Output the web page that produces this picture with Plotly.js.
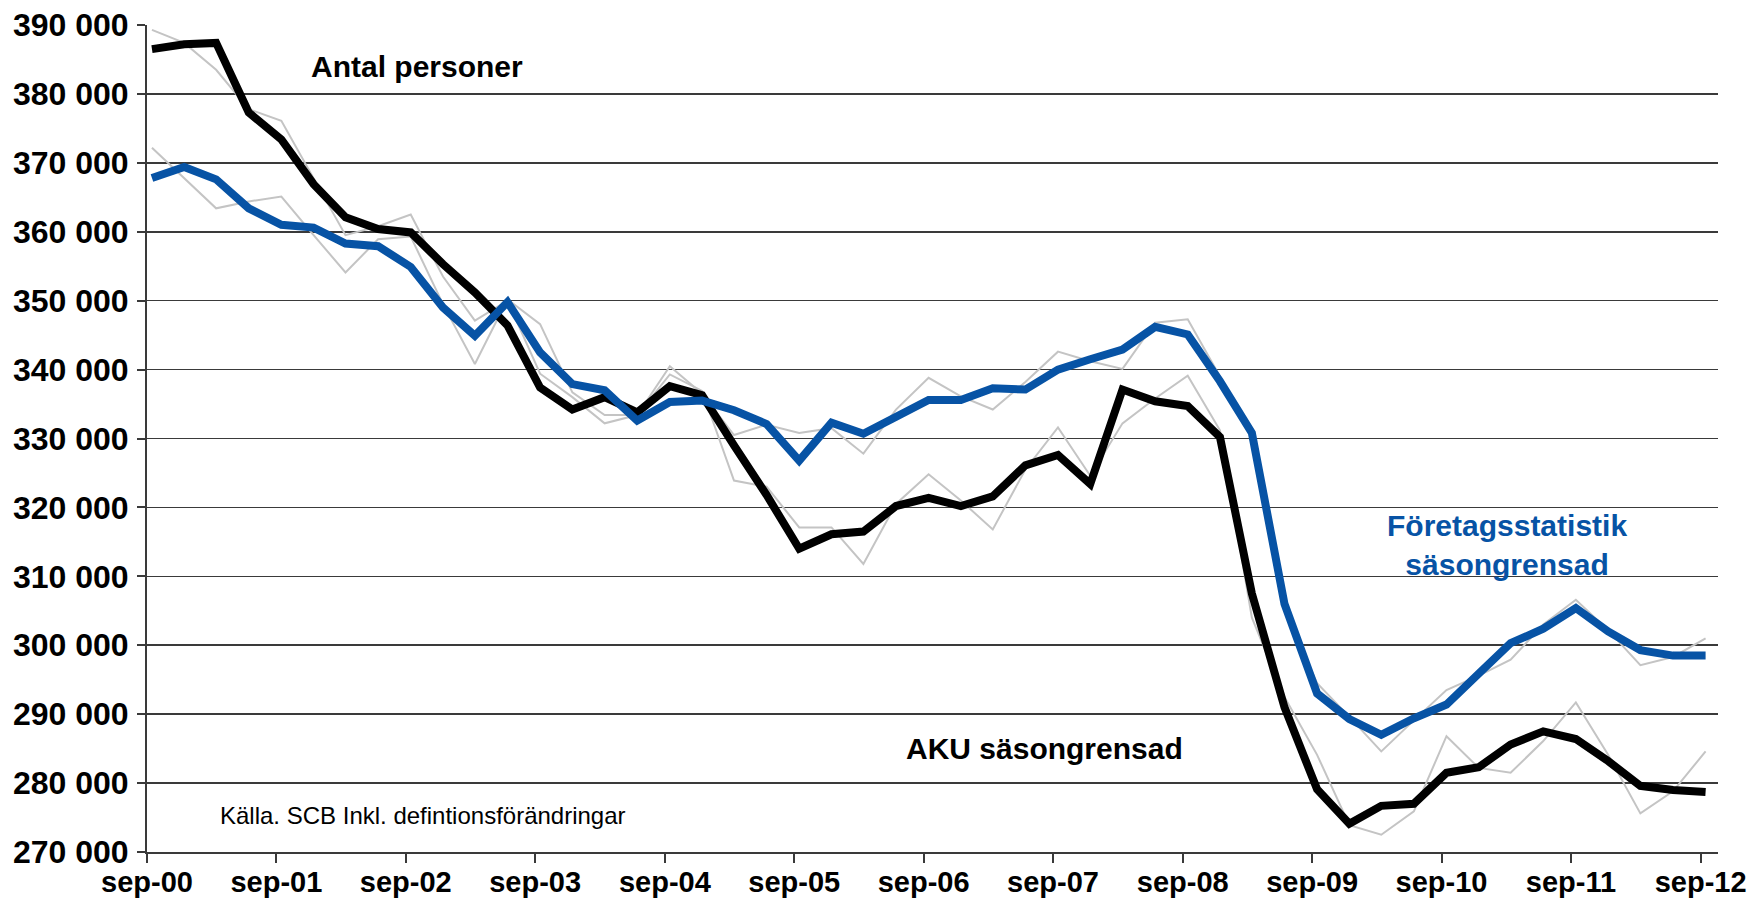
<!DOCTYPE html>
<html>
<head>
<meta charset="utf-8">
<script src="https://cdn.plot.ly/plotly-3.0.1.min.js"></script>
<style>
  html, body { margin: 0; padding: 0; background: #ffffff; }
  #chart { width: 1763px; height: 904px; }
</style>
</head>
<body>
<div id="chart"></div>
<script>
// Quarterly observations, sep-00 ... sep-12 (49 quarters)
const firstYear = 2000;
const firstMonth = 9;
const nQuarters = 49;

// AKU säsongrensad (black, thick)
const akuSa = [
  386500, 387200, 387400, 377300, 373400, 366900, 362100, 360400, 359900, 355300,
  351200, 346400, 337400, 334200, 336000, 333800, 337600, 336300, 329000, 321800,
  314000, 316100, 316500, 320200, 321400, 320200, 321600, 326100, 327600, 323400,
  337100, 335400, 334700, 330200, 307500, 291000, 279100, 274100, 276700, 277000,
  281500, 282300, 285600, 287500, 286400, 283200, 279600, 279000, 278700
];

// Företagsstatistik säsongrensad (blue, thick)
const foretagSa = [
  367800, 369400, 367600, 363400, 361000, 360600, 358300, 357900, 354900, 349000,
  344900, 349800, 342500, 337900, 337000, 332600, 335300, 335500, 334100, 332100,
  326800, 332300, 330700, 333300, 335600, 335600, 337300, 337100, 340000, 341500,
  342900, 346200, 345100, 338300, 330800, 306000, 293000, 289300, 287000, 289400,
  291400, 295900, 300300, 302400, 305400, 302000, 299300, 298500, 298500
];

// AKU ej säsongrensad (thin grey)
const akuRaw = [
  389300, 387400, 383500, 377800, 376100, 367800, 359500, 360800, 362500, 353500,
  347100, 350000, 339400, 336000, 332200, 333400, 339300, 336900, 323900, 323000,
  317100, 317100, 311800, 320500, 324800, 321000, 316800, 325500, 331600, 324600,
  332200, 335800, 339100, 331200, 304000, 292500, 284100, 273900, 272500, 275900,
  286800, 282200, 281500, 286100, 291700, 284100, 275600, 278800, 284600
];

// Företagsstatistik ej säsongrensad (thin grey)
const foretagRaw = [
  372200, 367800, 363400, 364400, 365100, 359500, 354100, 358900, 359300, 349500,
  340800, 350200, 346600, 336700, 333400, 333400, 340500, 336500, 330500, 332000,
  330800, 331500, 327800, 334200, 338800, 336100, 334200, 338200, 342600, 341200,
  340100, 346800, 347300, 339000, 330000, 305000, 294500, 289600, 284600, 289100,
  293500, 295600, 297900, 303000, 306600, 302200, 297100, 298300, 301000
];

// Axis ticks
const tickDates = [
  '2000-09-01','2001-09-01','2002-09-01','2003-09-01','2004-09-01','2005-09-01','2006-09-01',
  '2007-09-01','2008-09-01','2009-09-01','2010-09-01','2011-09-01','2012-09-01'
];
const tickLabels = [
  'sep-00','sep-01','sep-02','sep-03','sep-04','sep-05','sep-06',
  'sep-07','sep-08','sep-09','sep-10','sep-11','sep-12'
];
const yTicks = [270000, 280000, 290000, 300000, 310000, 320000, 330000, 340000, 350000, 360000, 370000, 380000, 390000];

// Quarter dates (mid-month)
const quarters = [];
for (let i = 0; i < nQuarters; i++) {
  const m0 = (firstMonth - 1) + 3 * i;
  const y = firstYear + Math.floor(m0 / 12);
  const m = (m0 % 12) + 1;
  quarters.push(y + '-' + String(m).padStart(2, '0') + '-15');
}

const FONT = '"Liberation Sans", Arial, Helvetica, sans-serif';
const BLUE = '#0753A5';

const traces = [
  { x: quarters, y: akuRaw, type: 'scatter', mode: 'lines', name: 'AKU',
    line: { color: '#c4c4c4', width: 2 }, hoverinfo: 'skip' },
  { x: quarters, y: foretagRaw, type: 'scatter', mode: 'lines', name: 'Företagsstatistik',
    line: { color: '#c4c4c4', width: 2 }, hoverinfo: 'skip' },
  { x: quarters, y: akuSa, type: 'scatter', mode: 'lines', name: 'AKU säsongrensad',
    line: { color: '#000000', width: 8 } },
  { x: quarters, y: foretagSa, type: 'scatter', mode: 'lines', name: 'Företagsstatistik säsongrensad',
    line: { color: BLUE, width: 8 } }
];

const layout = {
  width: 1763, height: 904,
  margin: { l: 147, r: 45, t: 25, b: 52, pad: 0 },
  paper_bgcolor: '#ffffff', plot_bgcolor: '#ffffff',
  showlegend: false,
  separators: ', ',
  font: { family: FONT, color: '#000000' },
  xaxis: {
    type: 'date',
    range: ['2000-09-01', '2012-10-20'],
    tickmode: 'array', tickvals: tickDates, ticktext: tickLabels,
    tickfont: { family: FONT, size: 29, color: '#000000', weight: 'bold' },
    showgrid: false, zeroline: false,
    showline: true, linecolor: '#3a3a3a', linewidth: 2,
    ticks: 'outside', ticklen: 9, tickwidth: 2, tickcolor: '#3a3a3a',
    ticklabelstandoff: -6
  },
  yaxis: {
    range: [270000, 390000],
    tickmode: 'array', tickvals: yTicks,
    tickformat: ',d',
    tickfont: { family: FONT, size: 32, color: '#000000', weight: 'bold' },
    showgrid: true, gridcolor: '#3a3a3a', gridwidth: 1.6,
    zeroline: false,
    showline: true, linecolor: '#3a3a3a', linewidth: 2,
    ticks: 'outside', ticklen: 8, tickwidth: 2, tickcolor: '#3a3a3a',
    ticklabelstandoff: 2
  },
  annotations: [
    { text: '<b>Antal personer</b>', xref: 'paper', yref: 'paper', x: 0.1719, y: 0.950,
      xanchor: 'center', yanchor: 'middle', showarrow: false,
      font: { family: FONT, size: 30, color: '#000000' } },
    { text: '<b>Företagsstatistik<br>säsongrensad</b>', xref: 'paper', yref: 'paper', x: 0.8657, y: 0.371,
      xanchor: 'center', yanchor: 'middle', showarrow: false,
      font: { family: FONT, size: 30, color: BLUE } },
    { text: '<b>AKU säsongrensad</b>', xref: 'paper', yref: 'paper', x: 0.5716, y: 0.1254,
      xanchor: 'center', yanchor: 'middle', showarrow: false,
      font: { family: FONT, size: 30, color: '#000000' } },
    { text: 'Källa. SCB Inkl. defintionsförändringar', xref: 'paper', yref: 'paper', x: 0.0452, y: 0.0444,
      xanchor: 'left', yanchor: 'middle', showarrow: false,
      font: { family: FONT, size: 24, color: '#000000' } }
  ]
};

Plotly.newPlot('chart', traces, layout, { displayModeBar: false, staticPlot: true });
</script>
</body>
</html>
